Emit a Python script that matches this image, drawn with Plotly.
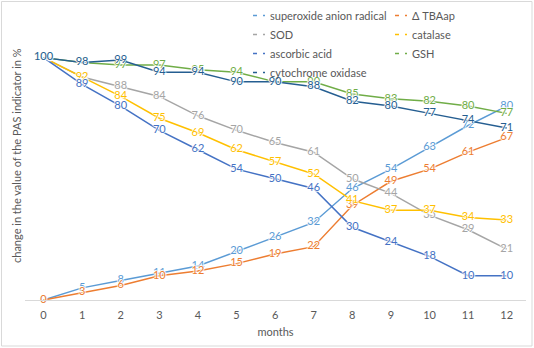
import plotly.graph_objects as go

# Months on the category axis
months = list(range(13))

# Change of each PAS indicator, % of the initial value
superoxide = [0, 5, 8, 11, 14, 20, 26, 32, 46, 54, 63, 72, 80]
tbaap = [0, 3, 6, 10, 12, 15, 19, 22, 39, 49, 54, 61, 67]
sod = [100, 92, 88, 84, 76, 70, 65, 61, 50, 44, 35, 29, 21]
catalase = [100, 92, 84, 75, 69, 62, 57, 52, 41, 37, 37, 34, 33]
ascorbic = [100, 89, 80, 70, 62, 54, 50, 46, 30, 24, 18, 10, 10]
gsh = [100, 98, 97, 97, 95, 94, 90, 90, 85, 83, 82, 80, 77]
cytochrome = [100, 98, 99, 94, 94, 90, 90, 88, 82, 80, 77, 74, 71]

W, H = 534, 348
L, R, T, B = 25, 8, 14, 48
pw, ph = W - L - R, H - T - B


def px_x(x):
    return (x - L) / pw


def px_y(y):
    return (H - B - y) / ph


series = [
    ("superoxide anion radical", superoxide, "#5B9BD5", "legend"),
    ("Δ TBAap", tbaap, "#ED7D31", "legend2"),
    ("SOD", sod, "#A5A5A5", "legend"),
    ("catalase", catalase, "#FFC000", "legend2"),
    ("ascorbic acid", ascorbic, "#4472C4", "legend"),
    ("GSH", gsh, "#70AD47", "legend2"),
    ("cytochrome oxidase", cytochrome, "#255E91", "legend"),
]

halo = "white 1px 0px 1px, white -1px 0px 1px, white 0px 1px 1px, white 0px -1px 1px"

fig = go.Figure()
for name, vals, color, lg in series:
    # the data line with its value labels
    fig.add_trace(go.Scatter(
        x=months, y=vals, name=name, legendgroup=name, showlegend=False,
        mode="lines+text", text=[str(v) for v in vals],
        textposition="middle center",
        textfont=dict(family="Lato", size=11, color=color, shadow=halo),
        line=dict(color=color, width=1.5),
        cliponaxis=False,
    ))
    # legend key drawn as a short dashed stroke
    fig.add_trace(go.Scatter(
        x=[None], y=[None], name=name, legendgroup=name, legend=lg,
        mode="lines", line=dict(color=color, width=1.5,
                                dash="0px,18px,4px,6px,4px"),
    ))

legend_font = dict(family="Lato", size=11, color="#595959")
fig.update_layout(
    width=W, height=H,
    margin=dict(l=L, r=R, t=T, b=B, autoexpand=False),
    paper_bgcolor="white", plot_bgcolor="white",
    font=dict(family="Lato", color="#595959"),
    legend=dict(x=px_x(230), y=px_y(1), xanchor="left", yanchor="top",
                bgcolor="rgba(0,0,0,0)", font=legend_font, tracegroupgap=0),
    legend2=dict(x=px_x(372), y=px_y(1), xanchor="left", yanchor="top",
                 bgcolor="rgba(0,0,0,0)", font=legend_font, tracegroupgap=0),
    xaxis=dict(range=[-0.48, 12.5], tickmode="array", tickvals=months,
               showgrid=False, zeroline=False, showline=True,
               linecolor="#D9D9D9", linewidth=1, ticklabelstandoff=5,
               tickfont=dict(size=11, color="#595959"),
               title=dict(text="months", font=dict(size=11, color="#595959"),
                          standoff=8)),
    yaxis=dict(range=[0, 118], showgrid=False, zeroline=False,
               showticklabels=False, showline=False),
    annotations=[dict(text="change in the value of the PAS indicator in %",
                      xref="paper", yref="paper", x=px_x(16), y=px_y(156),
                      xanchor="center", yanchor="middle", textangle=-90,
                      showarrow=False, font=dict(size=11, color="#595959"))],
    shapes=[dict(type="rect", xref="paper", yref="paper",
                 x0=px_x(1.5), x1=px_x(532), y0=px_y(346), y1=px_y(1.5),
                 line=dict(color="#D9D9D9", width=1), layer="below")],
)

fig.write_html("out.html")
